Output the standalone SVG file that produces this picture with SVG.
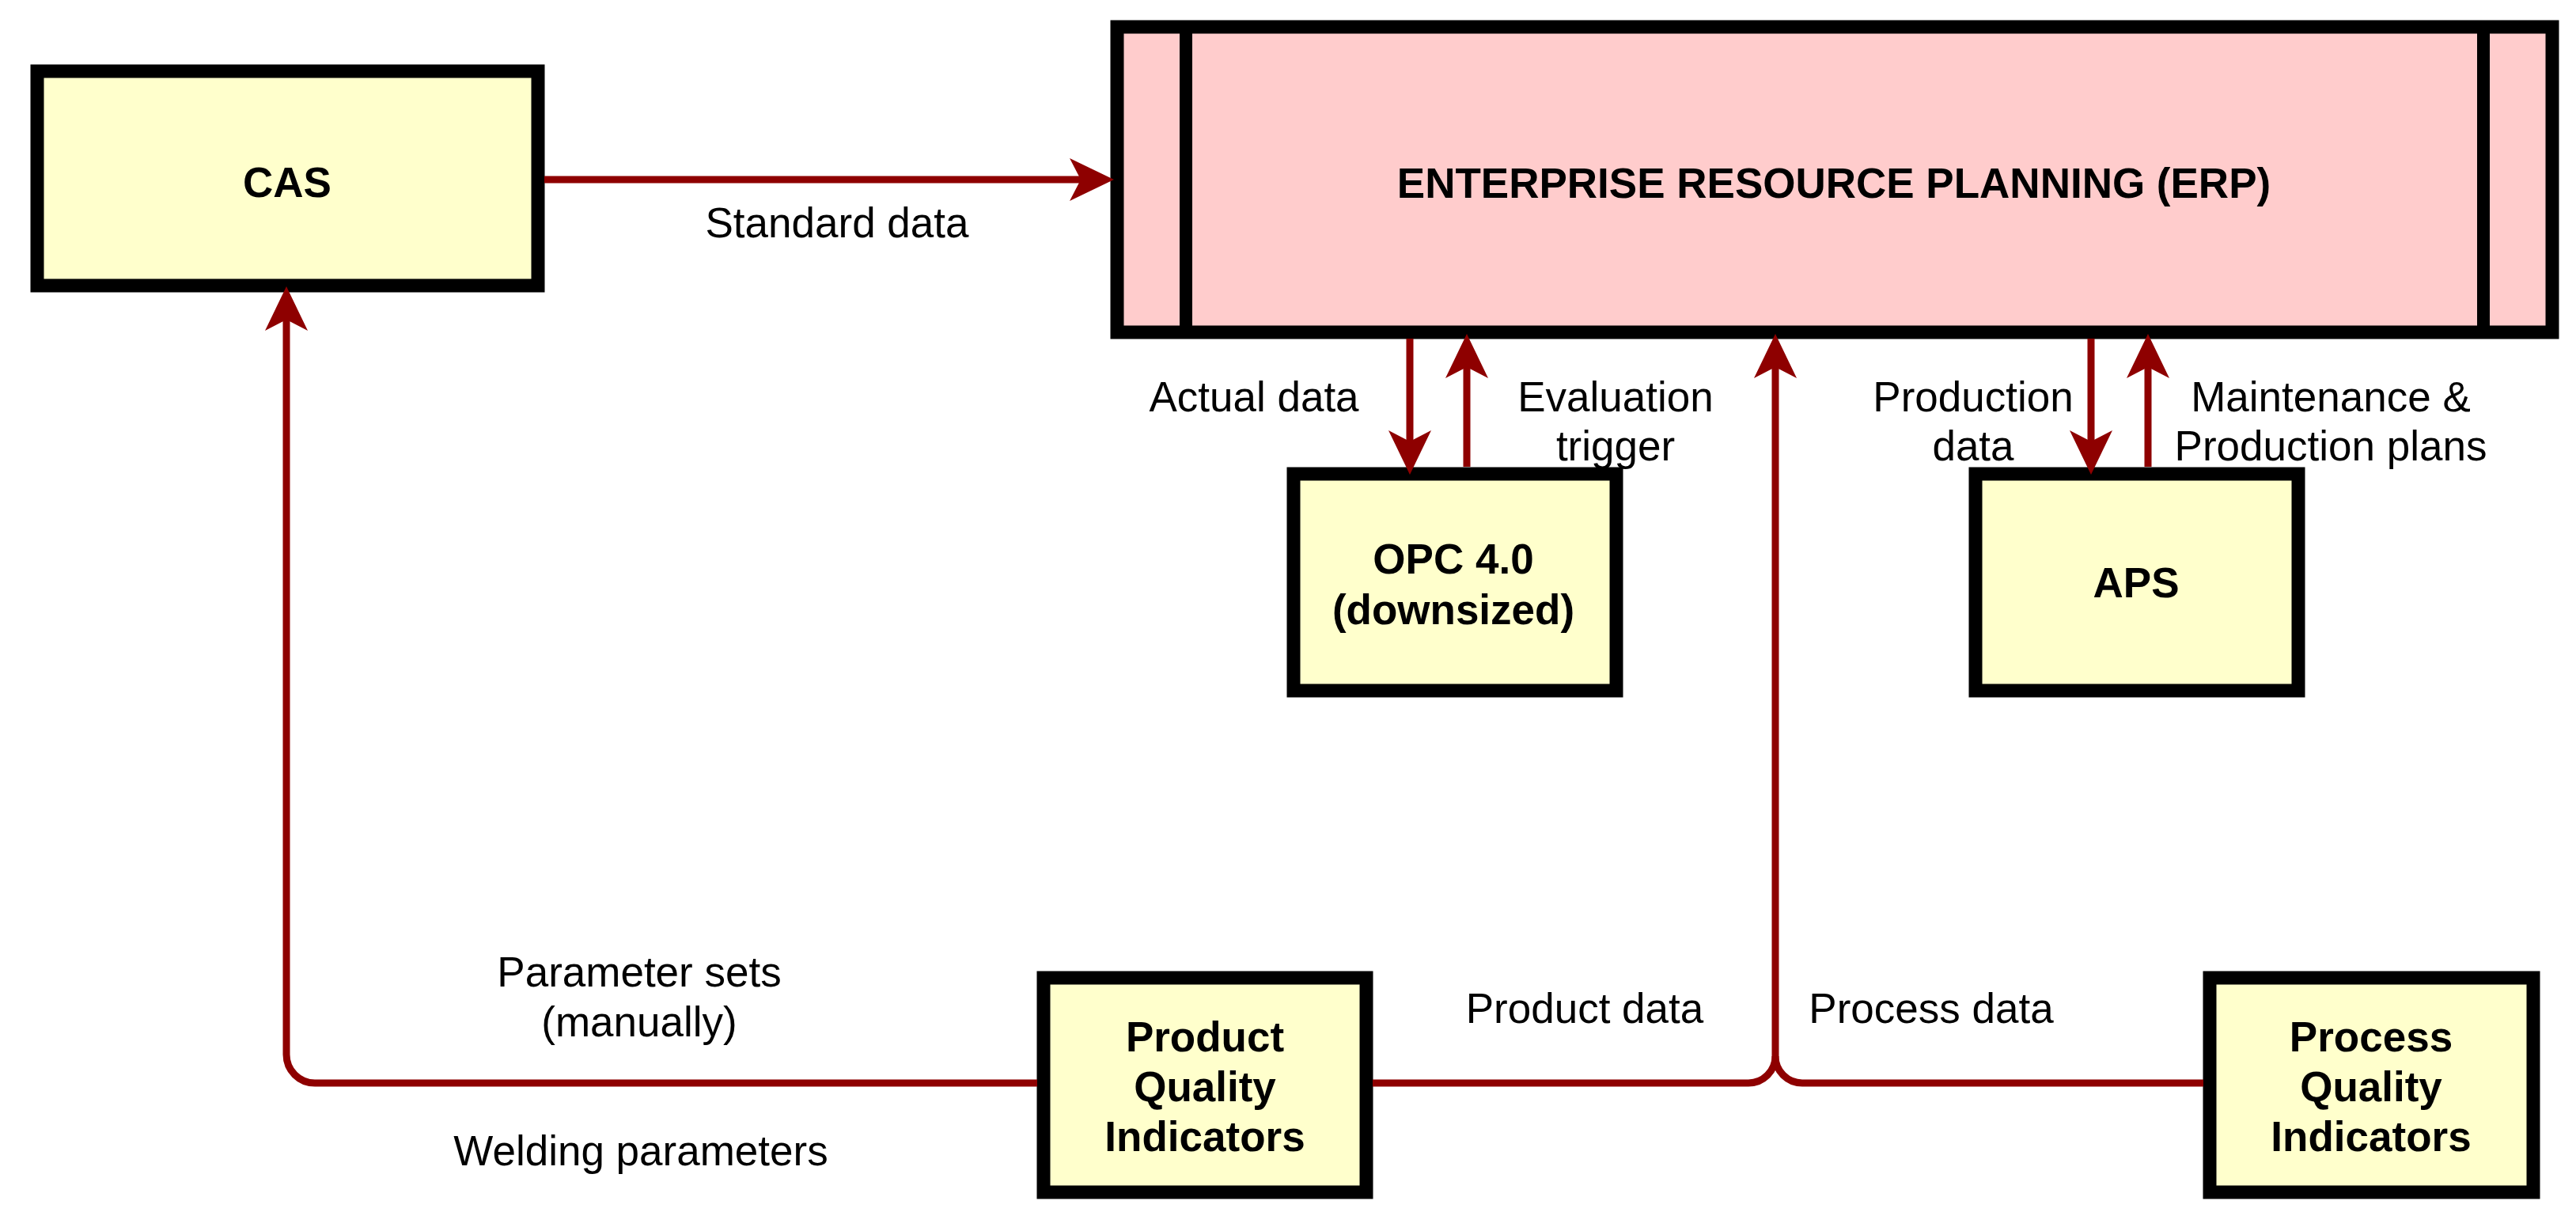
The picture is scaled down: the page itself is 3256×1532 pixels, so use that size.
<svg xmlns="http://www.w3.org/2000/svg" width="3256" height="1532" viewBox="0 0 3256 1532">
<style>
.box{fill:#FFFFCC;stroke:#000;stroke-width:17}
.erp{fill:#FFCCCC;stroke:#000;stroke-width:17}
.bar{stroke:#000;stroke-width:16}
.node{font-family:"Liberation Sans",Arial,sans-serif;font-weight:bold;font-size:53px;fill:#000;text-anchor:middle}
.lbl{font-family:"Liberation Sans",Arial,sans-serif;font-size:53px;fill:#000;text-anchor:middle}
.conn{fill:none;stroke:#8E0000;stroke-width:9}
</style>
<defs>
<marker id="arr" viewBox="0 0 56 54" refX="18" refY="27" markerWidth="56" markerHeight="54" markerUnits="userSpaceOnUse" orient="auto">
<path d="M0,0 L56,27 L0,54 L14,27 Z" fill="#8E0000"/>
</marker>
</defs>
<rect width="3256" height="1532" fill="#fff"/>
<g id="cas">
<rect class="box" x="47" y="90" width="633" height="271"/>
<text class="node" x="363" y="249">CAS</text>
</g>
<g id="erp">
<rect class="erp" x="1412" y="34" width="1814" height="386"/>
<line class="bar" x1="1499" y1="34" x2="1499" y2="420"/>
<line class="bar" x1="3139" y1="34" x2="3139" y2="420"/>
<text class="node" x="2318" y="250">ENTERPRISE RESOURCE PLANNING (ERP)</text>
</g>
<g id="opc">
<rect class="box" x="1635" y="599" width="408" height="274"/>
<text class="node" x="1837" y="725">OPC 4.0</text>
<text class="node" x="1837" y="789">(downsized)</text>
</g>
<g id="aps">
<rect class="box" x="2497" y="599" width="408" height="274"/>
<text class="node" x="2700" y="755">APS</text>
</g>
<g id="pqi">
<rect class="box" x="1319" y="1236" width="408" height="271"/>
<text class="node" x="1523" y="1329">Product</text>
<text class="node" x="1523" y="1392">Quality</text>
<text class="node" x="1523" y="1455">Indicators</text>
</g>
<g id="prqi">
<rect class="box" x="2793" y="1236" width="409" height="271"/>
<text class="node" x="2997" y="1329">Process</text>
<text class="node" x="2997" y="1392">Quality</text>
<text class="node" x="2997" y="1455">Indicators</text>
</g>
<g id="connectors">
<path class="conn" d="M688,227 H1370" marker-end="url(#arr)"/>
<path class="conn" d="M1782,428 V562" marker-end="url(#arr)"/>
<path class="conn" d="M1854,590 V460" marker-end="url(#arr)"/>
<path class="conn" d="M2643,428 V562" marker-end="url(#arr)"/>
<path class="conn" d="M2715,590 V460" marker-end="url(#arr)"/>
<path class="conn" d="M1311,1369 H398 A36,36 0 0 1 362,1333 V400" marker-end="url(#arr)"/>
<path class="conn" d="M1735,1369 H2210 A34,34 0 0 0 2244,1335 V460" marker-end="url(#arr)"/>
<path class="conn" d="M2785,1369 H2278 A34,34 0 0 1 2244,1335"/>
<text class="lbl" x="1058" y="300">Standard data</text>
<text class="lbl" x="1585" y="520">Actual data</text>
<text class="lbl" x="2042" y="520">Evaluation</text>
<text class="lbl" x="2042" y="582">trigger</text>
<text class="lbl" x="2494" y="520">Production</text>
<text class="lbl" x="2494" y="582">data</text>
<text class="lbl" x="2946" y="520">Maintenance &amp;</text>
<text class="lbl" x="2946" y="582">Production plans</text>
<text class="lbl" x="808" y="1247">Parameter sets</text>
<text class="lbl" x="808" y="1310">(manually)</text>
<text class="lbl" x="810" y="1473">Welding parameters</text>
<text class="lbl" x="2003" y="1293">Product data</text>
<text class="lbl" x="2441" y="1293">Process data</text>
</g>
</svg>
